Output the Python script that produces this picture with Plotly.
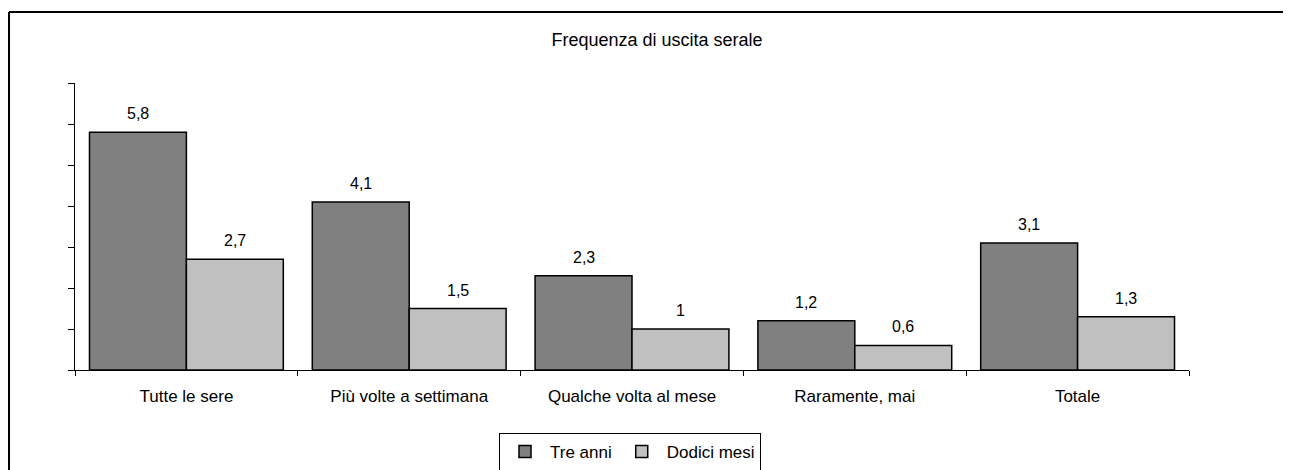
import plotly.graph_objects as go

categories = ["Tutte le sere", "Più volte a settimana", "Qualche volta al mese", "Raramente, mai", "Totale"]
tre_anni = [5.8, 4.1, 2.3, 1.2, 3.1]
dodici_mesi = [2.7, 1.5, 1.0, 0.6, 1.3]
series_names = ["Tre anni", "Dodici mesi"]
colors = ["#808080", "#C0C0C0"]

def fmt(v):
    s = f"{v:g}"
    return s.replace(".", ",")

W, H = 1283, 462
L, T, PW, PH = 67, 75, 1114, 287

fig = go.Figure()
for name, vals, col in zip(series_names, [tre_anni, dodici_mesi], colors):
    fig.add_trace(go.Bar(
        x=categories, y=vals, name=name,
        marker=dict(color=col, line=dict(color="black", width=1.5)),
    ))

bar_px = 97
for i, vals in enumerate([tre_anni, dodici_mesi]):
    shift = (-0.5 if i == 0 else 0.5) * bar_px
    for c, v in zip(categories, vals):
        fig.add_annotation(x=c, y=v, xref="x", yref="y", text=fmt(v),
                           showarrow=False, xshift=shift, yanchor="bottom", yshift=8,
                           font=dict(size=16, color="black"))

font_family = "Liberation Sans, Arial, sans-serif"
fig.update_layout(
    width=W, height=H,
    margin=dict(l=L, r=W - L - PW, t=T, b=H - T - PH, autoexpand=False),
    paper_bgcolor="white", plot_bgcolor="white",
    font=dict(family=font_family, size=16, color="black"),
    title=dict(text="Frequenza di uscita serale", x=(657 - 8) / W, xref="container",
               xanchor="center", y=1 - 32 / H, yref="container", yanchor="middle",
               font=dict(size=18)),
    barmode="group", bargap=0.13, bargroupgap=0,
    showlegend=True,
    legend=dict(orientation="h", x=(630 - 8) / W, xref="container", xanchor="center",
                y=1 - 425 / H, yref="container", yanchor="top",
                bordercolor="black", borderwidth=1, bgcolor="white",
                font=dict(size=17), itemwidth=40),
    xaxis=dict(showline=True, linecolor="black", linewidth=1, ticks="outside",
               tickson="boundaries", ticklen=5, tickcolor="black", showgrid=False,
               tickfont=dict(size=17), ticklabelstandoff=11),
    yaxis=dict(range=[0, 7], dtick=1, showline=True, linecolor="black", linewidth=1,
               ticks="outside", ticklen=6, tickcolor="black", showticklabels=False,
               showgrid=False, zeroline=False),
)

# outer chart frame (top and left edges visible in the reference)
def px_x(xf):
    return (xf - L) / PW

def px_y(yf):
    return (T + PH - yf) / PH

fig.add_shape(type="line", xref="paper", yref="paper",
              x0=px_x(1), x1=px_x(W + 5), y0=px_y(4), y1=px_y(4),
              line=dict(color="black", width=2))
fig.add_shape(type="line", xref="paper", yref="paper",
              x0=px_x(1), x1=px_x(1), y0=px_y(4), y1=px_y(H + 5),
              line=dict(color="black", width=2))

fig.write_html("out.html")
